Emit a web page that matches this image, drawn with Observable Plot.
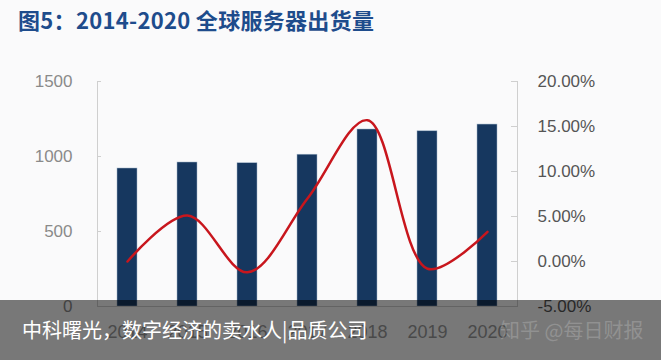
<!DOCTYPE html>
<html>
<head>
<meta charset="utf-8">
<script src="https://cdn.jsdelivr.net/npm/d3@7"></script>
<script src="https://cdn.jsdelivr.net/npm/@observablehq/plot@0.6"></script>
<style>
  html, body { margin: 0; padding: 0; background: #fafafb; }
  #wrap { position: relative; width: 661px; height: 360px; overflow: hidden; background: #fafafb; }
  #title { position: absolute; left: 18px; top: 3px; font-family: "Noto Sans CJK SC", sans-serif; font-weight: 700; font-size: 22px; color: #1e4c8c; white-space: nowrap; letter-spacing: 0.3px; }
  .layer { position: absolute; left: 0; top: 40px; }
  #band { position: absolute; left: 0; top: 300px; width: 661px; height: 60px; background: rgba(0,0,0,0.52); }
  #caption { position: absolute; left: 22px; top: 16px; font-family: "Noto Sans CJK SC", sans-serif; font-size: 20px; color: #ffffff; white-space: nowrap; line-height: 28px; }
  #mark { position: absolute; left: 500px; top: 16px; font-family: "Noto Sans CJK SC", sans-serif; font-size: 20px; color: rgba(255,255,255,0.2); white-space: nowrap; line-height: 28px; }
</style>
</head>
<body>
<div id="wrap">
  <div id="title">图5：2014-2020 全球服务器出货量</div>
  <div id="l1" class="layer"></div>
  <div id="l2" class="layer"></div>
  <div id="band">
    <div id="caption">中科曙光，数字经济的卖水人|品质公司</div>
    <div id="mark">知乎 @每日财报</div>
  </div>
</div>
<script>
const years = ["2014", "2015", "2016", "2017", "2018", "2019", "2020"];
const shipments = [920, 960, 955, 1012, 1180, 1168, 1213];
const growth = [0.0, 5.1, -1.2, 7.0, 15.7, -0.8, 3.3];
const leftTicks = [0, 500, 1000, 1500];
const rightTicks = [-5, 0, 5, 10, 15, 20];

const rows = years.map((y, i) => ({year: y, value: shipments[i], growth: growth[i]}));

const common = {
  width: 661,
  height: 320,
  marginTop: 41,
  marginBottom: 54,
  marginLeft: 97,
  marginRight: 144,
  style: {background: "transparent", fontFamily: "'Liberation Sans', Arial, sans-serif", fontSize: "17px", overflow: "visible"},
  x: {type: "band", domain: years, paddingInner: 0.67, paddingOuter: 0.335, axis: null, label: null}
};

const p1 = Plot.plot({
  ...common,
  y: {domain: [0, 1500], axis: null, label: null},
  marks: [
    Plot.barY(rows, {x: "year", y: "value", fill: "#16375f", stroke: "#9fb3c8", strokeWidth: 0.5}),
    Plot.frame({anchor: "left", stroke: "#cfcfcf"}),
    Plot.frame({anchor: "bottom", stroke: "#cfcfcf"}),
    Plot.axisY({ticks: leftTicks, tickSize: 4, dx: 4, text: null, stroke: "#cfcfcf", label: null}),
    Plot.axisY({ticks: leftTicks, tickSize: 0, tickPadding: 25, fill: "#8a8a8a", fontSize: 17, label: null, tickFormat: d => String(d)}),
    Plot.axisX({tickSize: 0, tickPadding: 19, fill: "#9a9a9a", fontSize: 18, label: null})
  ]
});

const p2 = Plot.plot({
  ...common,
  y: {domain: [-5, 20], axis: null, label: null},
  marks: [
    Plot.frame({anchor: "right", stroke: "#cfcfcf"}),
    Plot.axisY({anchor: "right", ticks: rightTicks, tickSize: 7, dx: -7, text: null, stroke: "#cfcfcf", label: null}),
    Plot.axisY({anchor: "right", ticks: rightTicks, tickSize: 0, tickPadding: 20, fill: "#555555", fontSize: 17, label: null, tickFormat: d => d.toFixed(2) + "%"}),
    Plot.line(rows, {x: "year", y: "growth", stroke: "#c8161d", strokeWidth: 2.5, curve: "catmull-rom"})
  ]
});

document.getElementById("l1").appendChild(p1);
document.getElementById("l2").appendChild(p2);
</script>
</body>
</html>
